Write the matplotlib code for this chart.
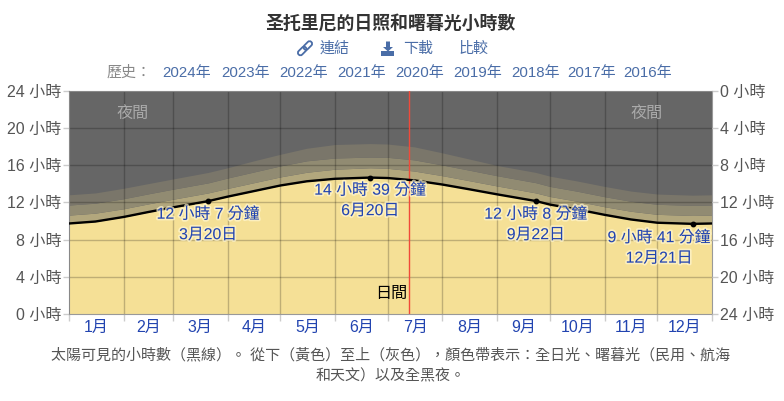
import matplotlib
matplotlib.use('Agg')
import matplotlib.pyplot as plt
import matplotlib.patheffects as pe
from matplotlib.patches import FancyBboxPatch, Polygon, Rectangle
from matplotlib.transforms import Affine2D

plt.rcParams['font.family'] = ['Liberation Sans', 'Noto Sans CJK TC', 'DejaVu Sans']

W, H = 784, 401

days = [0, 15, 31, 45, 59, 79, 90, 105, 120, 135, 151, 171, 181, 196, 212, 227, 243, 265, 273, 288, 304, 319, 334, 354, 365]
daylight = [9.72, 9.93, 10.42, 10.95, 11.45, 12.12, 12.6, 13.2, 13.8, 14.25, 14.52, 14.65, 14.6, 14.35, 13.9, 13.4, 12.85, 12.13, 11.75, 11.25, 10.65, 10.15, 9.8, 9.68, 9.72]
civil = [10.62, 10.83, 11.3, 11.82, 12.32, 13.0, 13.48, 14.1, 14.72, 15.22, 15.55, 15.7, 15.64, 15.35, 14.85, 14.32, 13.75, 13.0, 12.62, 12.12, 11.52, 11.03, 10.7, 10.58, 10.62]
nautical = [11.7, 11.9, 12.38, 12.9, 13.4, 14.08, 14.6, 15.25, 15.9, 16.45, 16.75, 16.85, 16.82, 16.55, 16.0, 15.45, 14.85, 14.1, 13.7, 13.2, 12.6, 12.1, 11.78, 11.66, 11.7]
astro = [12.8, 13.0, 13.5, 14.0, 14.5, 15.2, 15.7, 16.45, 17.15, 17.8, 18.2, 18.3, 18.25, 17.95, 17.3, 16.65, 15.95, 15.2, 14.8, 14.3, 13.7, 13.2, 12.88, 12.76, 12.8]

month_edges = [0, 31, 59, 90, 120, 151, 181, 212, 243, 273, 304, 334, 365]
month_labels = ['1月', '2月', '3月', '4月', '5月', '6月', '7月', '8月', '9月', '10月', '11月', '12月']
hour_ticks = [0, 4, 8, 12, 16, 20, 24]
today = 192.8

# dots on the line, and the label text
key_days = [79, 171, 265, 354]
key_hours = [12.12, 14.65, 12.13, 9.68]
key_text = ['12 小時 7 分鐘', '14 小時 39 分鐘', '12 小時 8 分鐘', '9 小時 41 分鐘']
key_dates = ['3月20日', '6月20日', '9月22日', '12月21日']
key_label_x = [79, 171, 265, 335]
key_label_y = [10.72, 13.3, 10.72, 8.2]

years = ['2024年', '2023年', '2022年', '2021年', '2020年', '2019年', '2018年', '2017年', '2016年']
year_x = [187, 246, 304, 362, 420, 478, 535, 592, 648]

BLUE = '#4a6da7'
LABEL = '#2244b0'
GREY = '#555555'

fig = plt.figure(figsize=(W / 100, H / 100), dpi=100)
fig.patch.set_facecolor('white')

L, R, T, B = 69, 712, 90.5, 314
ax = fig.add_axes([L / W, 1 - B / H, (R - L) / W, (B - T) / H])
ax.set_xlim(0, 365)
ax.set_ylim(0, 24)
ax.set_facecolor('#666666')

ax.fill_between(days, 0, daylight, color='#f5e096', lw=0, zorder=1)
ax.fill_between(days, daylight, civil, color='#b2a77d', lw=0, zorder=1)
ax.fill_between(days, civil, nautical, color='#918b72', lw=0, zorder=1)
ax.fill_between(days, nautical, astro, color='#7a766a', lw=0, zorder=1)

# gridlines sit over the bands
for e in month_edges[1:-1]:
    ax.axvline(e, color='black', alpha=0.22, lw=1, zorder=2)
for h in hour_ticks[1:-1]:
    ax.axhline(h, color='black', alpha=0.22, lw=1, zorder=2)

ax.axvline(today, color='#f04a3a', lw=1, zorder=3)
ax.plot(days, daylight, color='black', lw=1.7, zorder=4, solid_joinstyle='round')
ax.plot(key_days, key_hours, 'o', color='black', ms=3.2, zorder=5)

halo = [pe.withStroke(linewidth=2.5, foreground='#fff6d0', alpha=0.7)]
for i in range(len(key_days)):
    ax.text(key_label_x[i], key_label_y[i], key_text[i], color=LABEL, fontsize=11.4, ha='center', va='center', path_effects=halo, zorder=6)
    ax.text(key_label_x[i], key_label_y[i] - 2.2, key_dates[i], color=LABEL, fontsize=11.4, ha='center', va='center', path_effects=halo, zorder=6)

ax.text(36, 21.55, '夜間', color='#aaaaaa', fontsize=11.6, ha='center', va='center', zorder=6)
ax.text(328, 21.55, '夜間', color='#aaaaaa', fontsize=11.6, ha='center', va='center', zorder=6)
ax.text(183, 2.2, '日間', color='black', fontsize=11.6, ha='center', va='center', zorder=6)

for s in ['bottom', 'right']:
    ax.spines[s].set_color('#999999')
for s in ['top', 'left']:
    ax.spines[s].set_color('#888888')

ax.set_yticks(hour_ticks)
ax.set_yticklabels([f'{h} 小時' for h in hour_ticks], fontsize=11.5, color=GREY)
ax.tick_params(axis='y', length=4, width=1, color='#cccccc', pad=1.5)

ax.set_xticks(month_edges)
ax.set_xticklabels([])
ax.tick_params(axis='x', which='major', length=5, width=1, color='#cccccc')
ax.set_xticks([(month_edges[i] + month_edges[i + 1]) / 2 for i in range(12)], minor=True)
ax.set_xticklabels(month_labels, minor=True, fontsize=11.5, color=LABEL)
ax.tick_params(axis='x', which='minor', length=0, pad=4)

ax2 = ax.twinx()
ax2.set_ylim(24, 0)
ax2.set_yticks(hour_ticks)
ax2.set_yticklabels([f'{h} 小時' for h in hour_ticks], fontsize=11.5, color=GREY)
ax2.tick_params(axis='y', length=4, width=1, color='#cccccc', pad=1.5)
for s in ax2.spines.values():
    s.set_visible(False)


def put(x, y, s, **kw):
    fig.text(x / W, 1 - y / H, s, ha=kw.pop('ha', 'center'), va='center', **kw)


put(390.5, 24, '圣托里尼的日照和曙暮光小時數', fontsize=12.9, color='#333333', fontweight='bold')
put(334.5, 49, '連結', fontsize=10.8, color=BLUE)
put(418, 49, '下載', fontsize=10.8, color=BLUE)
put(474, 49, '比較', fontsize=10.8, color=BLUE)
put(129.5, 72.5, '歷史：', fontsize=10.8, color='#888888')
for x, y in zip(year_x, years):
    put(x, 72.5, y, fontsize=10.8, color=BLUE)

put(391, 355, '太陽可見的小時數（黑線）。 從下（黃色）至上（灰色），顏色帶表示：全日光、曙暮光（民用、航海', fontsize=10.8, color='#555555')
put(391, 376.5, '和天文）以及全黑夜。', fontsize=10.8, color='#555555')

# small icons in the link row, drawn in pixel coords
ov = fig.add_axes([0, 0, 1, 1], zorder=10)
ov.set_xlim(0, W)
ov.set_ylim(H, 0)
ov.axis('off')
ov.patch.set_alpha(0)

for cx, cy in [(302.2, 51), (307.8, 45.5)]:
    link = FancyBboxPatch((cx - 5, cy - 2.5), 10, 5, boxstyle='round,pad=0,rounding_size=2.5', fc='none', ec=BLUE, lw=1.3,
                          transform=Affine2D().rotate_deg_around(cx, cy, -45) + ov.transData)
    ov.add_patch(link)

ov.add_patch(Polygon([(386, 41.5), (390, 41.5), (390, 47), (393, 47), (388, 51.5), (383, 47), (386, 47)], fc=BLUE, ec='none'))
ov.add_patch(Rectangle((381.5, 51), 13, 4.5, fc=BLUE, ec='none'))

fig.savefig('out.png', dpi=100)
